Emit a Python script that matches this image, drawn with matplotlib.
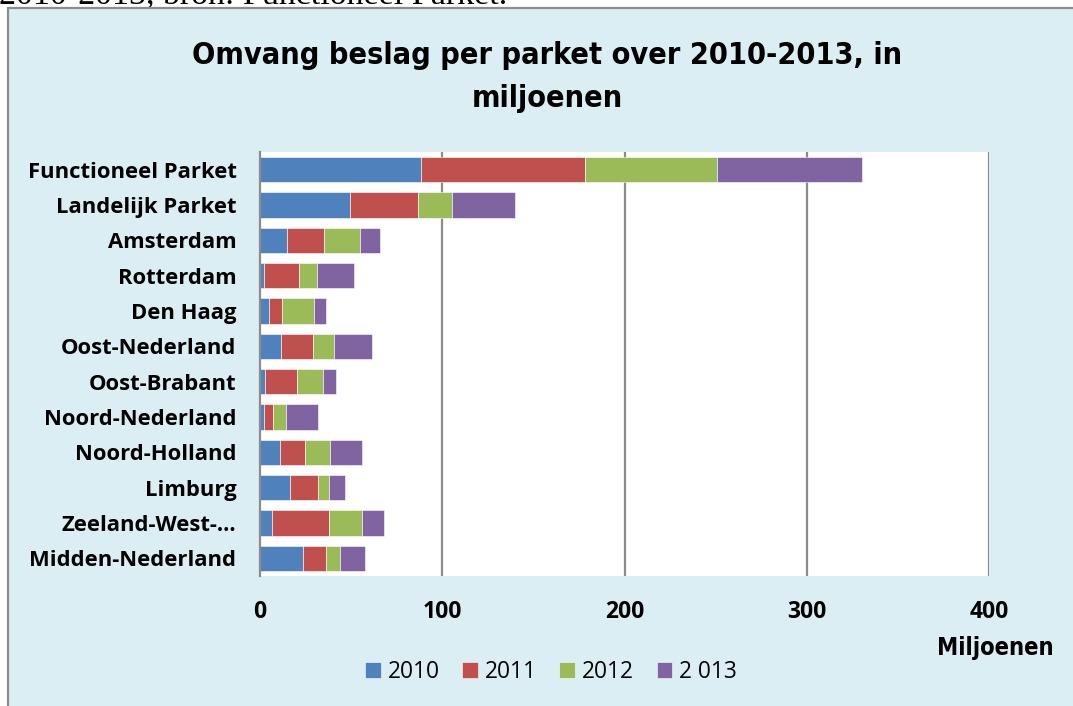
import matplotlib
matplotlib.use("Agg")
import matplotlib.pyplot as plt
from matplotlib.patches import Rectangle
import numpy as np

categories = ["Functioneel Parket", "Landelijk Parket", "Amsterdam", "Rotterdam",
              "Den Haag", "Oost-Nederland", "Oost-Brabant", "Noord-Nederland",
              "Noord-Holland", "Limburg", "Zeeland-West-…", "Midden-Nederland"]
v2010 = [88.4, 49.2, 14.8, 2.3, 4.8, 11.4, 2.8, 2.0, 10.8, 16.5, 6.4, 23.5]
v2011 = [90.0, 37.4, 20.1, 19.3, 7.5, 17.5, 17.4, 5.0, 13.8, 15.3, 31.5, 12.7]
v2012 = [72.4, 18.9, 19.8, 9.6, 17.1, 11.6, 14.5, 7.5, 13.6, 5.9, 17.8, 7.7]
v2013 = [79.7, 34.6, 10.9, 20.5, 6.6, 20.8, 7.0, 17.5, 17.9, 9.0, 12.5, 13.5]
series_names = ["2010", "2011", "2012", "2 013"]
colors = ["#4F81BD", "#C0504D", "#9BBB59", "#8064A2"]
xticks = [0, 100, 200, 300, 400]

COND = dict(family="DejaVu Sans", stretch="condensed")
OPEN = dict(family="Open Sans")

W, H = 1073, 706
fig = plt.figure(figsize=(W / 100, H / 100), dpi=100)
fig.patch.set_facecolor("white")

# partially visible caption text at very top (cut off in the reference)
fig.text(-1 / W, 1 - 3 / H, "2010-2013, bron: Functioneel Parket.", family="Liberation Serif",
         fontsize=24.5, ha="left", va="baseline", color="black", zorder=0)

frame = Rectangle((8 / W, -0.1), 1.2, 1.1 - 8 / H, transform=fig.transFigure,
                  facecolor="#DAEEF3", edgecolor="#8C8C8C", linewidth=1.6, zorder=1)
fig.patches.append(frame)

left, right, top, bottom = 260, 989, 152, 576
ax = fig.add_axes([left / W, 1 - bottom / H, (right - left) / W, (bottom - top) / H])
ax.set_facecolor("white")
ax.set_zorder(2)

y = np.arange(len(categories))
data = [v2010, v2011, v2012, v2013]
cum = np.zeros(len(categories))
for vals, name, c in zip(data, series_names, colors):
    ax.barh(y, vals, left=cum, height=0.71, color=c, label=name,
            edgecolor="white", linewidth=0.4, zorder=3)
    cum += np.array(vals)

ax.set_xlim(0, 400)
ax.set_ylim(len(categories) - 0.5, -0.5)
ax.set_xticks(xticks)
ax.set_xticklabels([str(t) for t in xticks], fontsize=16.5, fontweight="bold", **OPEN)
ax.set_yticks(y)
ax.set_yticklabels(categories, fontsize=15.8, fontweight="bold", **OPEN)
ax.tick_params(axis="both", length=0)
ax.tick_params(axis="x", pad=17)
ax.tick_params(axis="y", pad=17)
for t in xticks[1:]:
    ax.axvline(t, color="#8C8C8C", linewidth=1.6, zorder=2)
for s in ["top", "right", "bottom"]:
    ax.spines[s].set_visible(False)
ax.spines["left"].set_color("#8C8C8C")
ax.spines["left"].set_linewidth(1.6)
ax.spines["left"].set_zorder(4)

fig.text(547 / W, 1 - 77 / H, "Omvang beslag per parket over 2010-2013, in\nmiljoenen",
         ha="center", va="center", fontsize=22, fontweight="bold", linespacing=1.6, **COND)

fig.text(995 / W, 1 - 648 / H, "Miljoenen", ha="center", va="center",
         fontsize=17, fontweight="bold", **COND)

handles, labels = ax.get_legend_handles_labels()
leg = fig.legend(handles, labels, loc="center", bbox_to_anchor=(551 / W, 1 - 672 / H),
                 ncol=4, frameon=False, prop=dict(size=16.4, **OPEN),
                 handlelength=0.7, handleheight=0.7, handletextpad=0.28, columnspacing=1.0,
                 borderaxespad=0, borderpad=0)
leg.set_zorder(5)

fig.savefig("out.png", dpi=100)
